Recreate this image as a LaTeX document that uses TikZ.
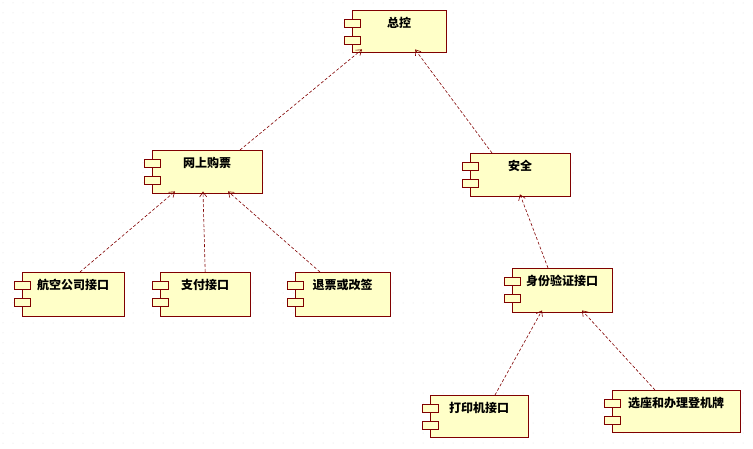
\documentclass[tikz,border=0pt]{standalone}
\usepackage{fontspec}
\usetikzlibrary{arrows.meta}
\newfontfamily\cjk{Noto Sans CJK SC}
\begin{document}
\begin{tikzpicture}[x=1pt,y=-1pt,
  comp/.style={draw=umlred, fill=umlfill, anchor=north west, inner sep=0pt,
    label={[anchor=north, yshift=-4pt, font=\cjk\bfseries\fontsize{12}{14}\selectfont]north:#1}},
  dep/.style={draw=umlred, dashed, dash pattern=on 3pt off 2pt, -{Straight Barb[length=5pt,width=7pt]}, semithick},
  port/.style={draw=umlred, fill=umlfill}]
\definecolor{umlred}{HTML}{800000}
\definecolor{umlfill}{HTML}{FFFFC8}
\useasboundingbox (0,0) rectangle (753,449);
\foreach \i in {0,10,...,750} \foreach \j in {0,10,...,440}
  \fill[black!15] (\i+3,\j+3) circle (0.5pt);

\node (ctl) at (352,10) [comp={总控}, minimum width=94pt, minimum height=42pt] {};
\node (buy) at (152,150) [comp={网上购票}, minimum width=110pt, minimum height=43pt] {};
\node (sec) at (470,153) [comp={安全}, minimum width=100pt, minimum height=43pt] {};
\node (air) at (22,272) [comp={航空公司接口}, minimum width=102pt, minimum height=44pt] {};
\node (pay) at (160,272) [comp={支付接口}, minimum width=90pt, minimum height=44pt] {};
\node (ref) at (295,272) [comp={退票或改签}, minimum width=95pt, minimum height=44pt] {};
\node (idv) at (512,268) [comp={身份验证接口}, minimum width=100pt, minimum height=44pt] {};
\node (prt) at (430,395) [comp={打印机接口}, minimum width=98pt, minimum height=42pt] {};
\node (seat) at (612,390) [comp={选座和办理登机牌}, minimum width=128pt, minimum height=42pt] {};

\foreach \n in {ctl,buy,sec,air,pay,ref,idv,prt,seat}
{
  \draw[port] ([xshift=-8pt,yshift=-9pt]\n.north west) rectangle ++(16,8);
  \draw[port] ([xshift=-8pt,yshift=-26pt]\n.north west) rectangle ++(16,8);
}

\draw[dep] ([xshift=88pt]buy.north west) -- ([xshift=10pt,yshift=3pt]ctl.south west);
\draw[dep] ([xshift=22pt]sec.north west) -- ([xshift=63pt,yshift=3pt]ctl.south west);
\draw[dep] ([xshift=58pt]air.north west) -- ([xshift=23pt,yshift=2pt]buy.south west);
\draw[dep] (pay.north) -- ([xshift=51pt,yshift=2pt]buy.south west);
\draw[dep] ([xshift=25pt]ref.north west) -- ([xshift=76pt,yshift=2pt]buy.south west);
\draw[dep] ([xshift=36pt]idv.north west) -- ([xshift=50pt,yshift=2pt]sec.south west);
\draw[dep] ([xshift=65pt]prt.north west) -- ([xshift=30pt,yshift=2pt]idv.south west);
\draw[dep] ([xshift=43pt]seat.north west) -- ([xshift=70pt,yshift=2pt]idv.south west);
\end{tikzpicture}
\end{document}
